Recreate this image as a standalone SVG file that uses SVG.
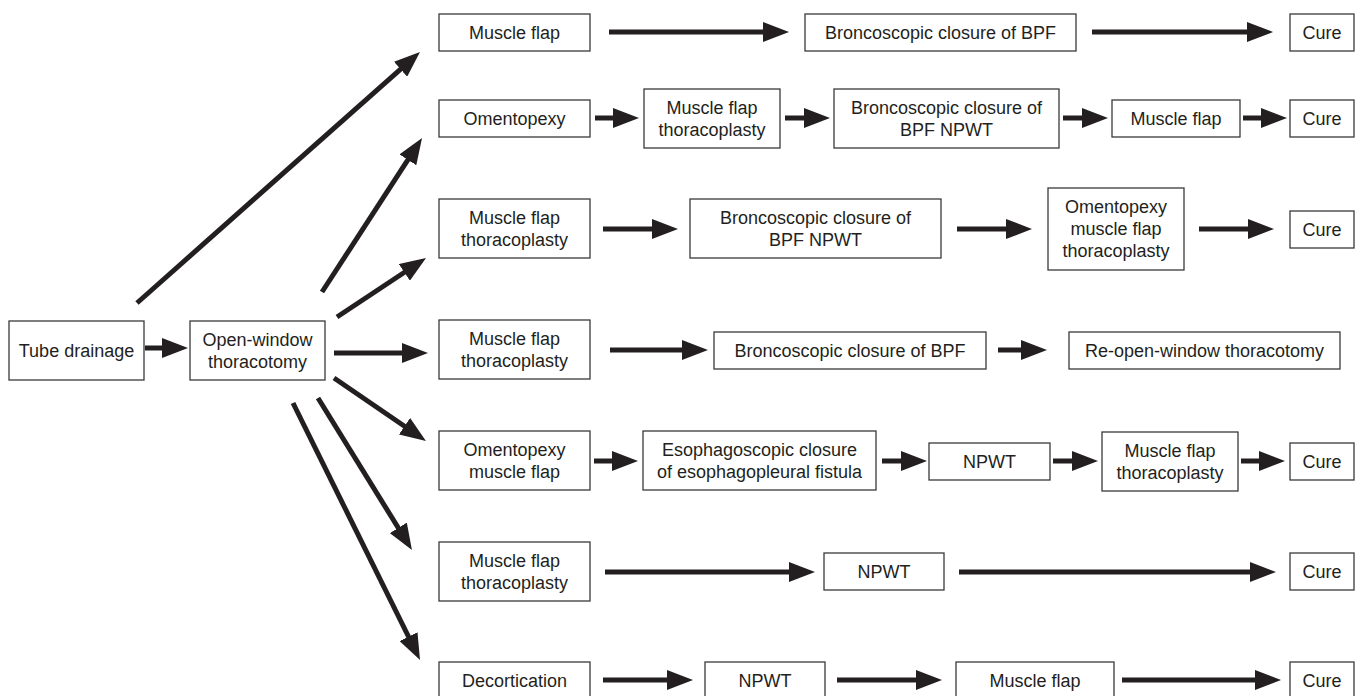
<svg xmlns="http://www.w3.org/2000/svg" width="1358" height="696" viewBox="0 0 1358 696">
<style>
.b{fill:#fff;stroke:#3a3a3a;stroke-width:1.3}
text{font-family:"Liberation Sans",Arial,sans-serif;font-size:18px;fill:#231f20;text-anchor:middle}
.c line{stroke:#231f20;stroke-width:5;marker-end:url(#ah)}
</style>
<defs>
<marker id="ah" markerUnits="userSpaceOnUse" markerWidth="26" markerHeight="20" refX="16" refY="10" orient="auto"><path d="M0,0 L26,10 L0,20 z" fill="#231f20"/></marker>
</defs>
<rect width="1358" height="696" fill="#fff"/>
<g class="c" id="connectors">
<line x1="145" y1="348" x2="178" y2="348"/>
<line x1="137" y1="303" x2="412.5" y2="58.6"/>
<line x1="322" y1="292" x2="416.6" y2="146.4"/>
<line x1="337" y1="317" x2="417.7" y2="263.5"/>
<line x1="334" y1="353" x2="418" y2="353"/>
<line x1="334" y1="378" x2="417.7" y2="435.3"/>
<line x1="318" y1="398" x2="406.7" y2="541.5"/>
<line x1="293" y1="403" x2="415.6" y2="651"/>
<line x1="609" y1="32" x2="779" y2="32"/>
<line x1="1092" y1="32" x2="1263" y2="32"/>
<line x1="595" y1="118" x2="629" y2="118"/>
<line x1="785" y1="118" x2="820" y2="118"/>
<line x1="1063" y1="118" x2="1098" y2="118"/>
<line x1="1243" y1="118" x2="1277" y2="118"/>
<line x1="603" y1="229" x2="668" y2="229"/>
<line x1="957" y1="229" x2="1022" y2="229"/>
<line x1="1199" y1="229" x2="1264" y2="229"/>
<line x1="610" y1="350" x2="698" y2="350"/>
<line x1="998" y1="350" x2="1037" y2="350"/>
<line x1="594" y1="461" x2="628" y2="461"/>
<line x1="882" y1="461" x2="917" y2="461"/>
<line x1="1053" y1="461" x2="1088" y2="461"/>
<line x1="1241" y1="461" x2="1275" y2="461"/>
<line x1="605" y1="572" x2="805" y2="572"/>
<line x1="959" y1="572" x2="1266" y2="572"/>
<line x1="603" y1="680" x2="683" y2="680"/>
<line x1="837" y1="680" x2="932" y2="680"/>
<line x1="1122" y1="680" x2="1271" y2="680"/>
</g>
<g id="n-tube"><rect class="b" x="9" y="321" width="135" height="59"/><text x="76.5" y="357">Tube drainage</text></g>
<g id="n-open"><rect class="b" x="190" y="321" width="135" height="59"/><text x="257.5" y="346">Open-window</text><text x="257.5" y="368">thoracotomy</text></g>

<g id="r1-a"><rect class="b" x="439" y="14" width="151" height="37"/><text x="514.5" y="39">Muscle flap</text></g>
<g id="r1-b"><rect class="b" x="805" y="14" width="271" height="37"/><text x="940.5" y="39">Broncoscopic closure of BPF</text></g>
<g id="r1-c"><rect class="b" x="1290" y="14" width="64" height="37"/><text x="1322" y="39">Cure</text></g>

<g id="r2-a"><rect class="b" x="439" y="100" width="151" height="37"/><text x="514.5" y="125">Omentopexy</text></g>
<g id="r2-b"><rect class="b" x="644" y="89" width="136" height="59"/><text x="712" y="114">Muscle flap</text><text x="712" y="136">thoracoplasty</text></g>
<g id="r2-c"><rect class="b" x="834" y="89" width="225" height="59"/><text x="946.5" y="114">Broncoscopic closure of</text><text x="946.5" y="136">BPF NPWT</text></g>
<g id="r2-d"><rect class="b" x="1112" y="100" width="128" height="37"/><text x="1176" y="125">Muscle flap</text></g>
<g id="r2-e"><rect class="b" x="1290" y="100" width="64" height="37"/><text x="1322" y="125">Cure</text></g>

<g id="r3-a"><rect class="b" x="439" y="199" width="151" height="59"/><text x="514.5" y="224">Muscle flap</text><text x="514.5" y="246">thoracoplasty</text></g>
<g id="r3-b"><rect class="b" x="690" y="199" width="251" height="59"/><text x="815.5" y="224">Broncoscopic closure of</text><text x="815.5" y="246">BPF NPWT</text></g>
<g id="r3-c"><rect class="b" x="1048" y="188" width="136" height="82"/><text x="1116" y="213">Omentopexy</text><text x="1116" y="235">muscle flap</text><text x="1116" y="257">thoracoplasty</text></g>
<g id="r3-d"><rect class="b" x="1290" y="211" width="64" height="37"/><text x="1322" y="236">Cure</text></g>

<g id="r4-a"><rect class="b" x="439" y="320" width="151" height="59"/><text x="514.5" y="345">Muscle flap</text><text x="514.5" y="367">thoracoplasty</text></g>
<g id="r4-b"><rect class="b" x="714" y="332" width="272" height="37"/><text x="850" y="357">Broncoscopic closure of BPF</text></g>
<g id="r4-c"><rect class="b" x="1069" y="332" width="271" height="37"/><text x="1204.5" y="357">Re-open-window thoracotomy</text></g>

<g id="r5-a"><rect class="b" x="439" y="431" width="151" height="59"/><text x="514.5" y="456">Omentopexy</text><text x="514.5" y="478">muscle flap</text></g>
<g id="r5-b"><rect class="b" x="643" y="431" width="233" height="59"/><text x="759.5" y="456">Esophagoscopic closure</text><text x="759.5" y="478">of esophagopleural fistula</text></g>
<g id="r5-c"><rect class="b" x="929" y="443" width="121" height="37"/><text x="989.5" y="468">NPWT</text></g>
<g id="r5-d"><rect class="b" x="1102" y="432" width="136" height="59"/><text x="1170" y="457">Muscle flap</text><text x="1170" y="479">thoracoplasty</text></g>
<g id="r5-e"><rect class="b" x="1290" y="443" width="64" height="37"/><text x="1322" y="468">Cure</text></g>

<g id="r6-a"><rect class="b" x="439" y="542" width="151" height="59"/><text x="514.5" y="567">Muscle flap</text><text x="514.5" y="589">thoracoplasty</text></g>
<g id="r6-b"><rect class="b" x="824" y="553" width="120" height="37"/><text x="884" y="578">NPWT</text></g>
<g id="r6-c"><rect class="b" x="1290" y="553" width="64" height="37"/><text x="1322" y="578">Cure</text></g>

<g id="r7-a"><rect class="b" x="439" y="662" width="151" height="37"/><text x="514.5" y="687">Decortication</text></g>
<g id="r7-b"><rect class="b" x="705" y="662" width="120" height="37"/><text x="765" y="687">NPWT</text></g>
<g id="r7-c"><rect class="b" x="956" y="662" width="158" height="37"/><text x="1035" y="687">Muscle flap</text></g>
<g id="r7-d"><rect class="b" x="1290" y="662" width="64" height="37"/><text x="1322" y="687">Cure</text></g>
</svg>
